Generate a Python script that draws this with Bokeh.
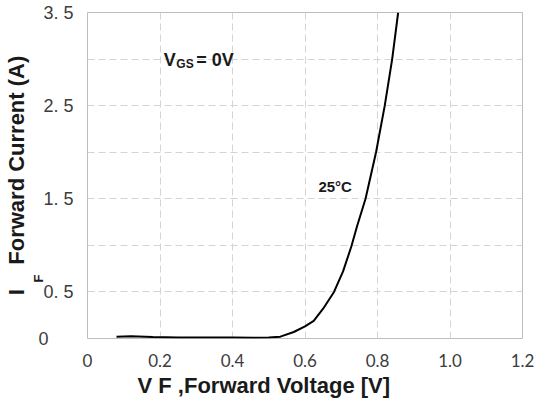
from bokeh.plotting import figure
from bokeh.models import Range1d, FixedTicker, Label, Title
from bokeh.embed import file_html
from bokeh.resources import INLINE

# ---- data ----
vf = [0.08, 0.12, 0.18, 0.25, 0.32, 0.40, 0.46, 0.50, 0.532, 0.569, 0.60, 0.624, 0.65,
      0.68, 0.705, 0.728, 0.744, 0.767, 0.796, 0.82, 0.8405, 0.857]
i_f = [0.02, 0.025, 0.015, 0.012, 0.012, 0.01, 0.008, 0.01, 0.02, 0.07, 0.13, 0.19, 0.32,
       0.50, 0.72, 0.99, 1.21, 1.5, 2.0, 2.5, 3.0, 3.5]

x_ticks = [0, 0.2, 0.4, 0.6, 0.8, 1.0, 1.2]
x_labels = ["0", "0.2", "0.4", "0.6", "0.8", "1.0", "1.2"]
y_ticks = [0, 0.5, 1.5, 2.5, 3.5]
y_labels = ["0\u00a0\u00a0\u00a0\u00a0\u00a0", "0. 5", "1. 5", "2. 5", "3. 5"]
y_grid = [0, 0.5, 1.0, 1.5, 2.0, 2.5, 3.0, 3.5]

x_title = "V F ,Forward Voltage [V]"
y_title = "I\u00a0\u00a0\u00a0 Forward Current (A)"
y_title_sub = "F"
cond_main, cond_sub, cond_rest = "V", "GS", "= 0V"
curve_label = "25\u00b0C"

p = figure(width=544, height=405, output_backend="svg", toolbar_location=None,
           x_range=Range1d(0, 1.2), y_range=Range1d(0, 3.5),
           min_border_left=87, min_border_right=22, min_border_top=12, min_border_bottom=67)

p.outline_line_color = "#bdbdbd"
p.outline_line_width = 1
p.background_fill_color = "white"
p.border_fill_color = "white"

for ax in (p.xaxis[0], p.yaxis[0]):
    ax.axis_line_color = None
    ax.major_tick_line_color = None
    ax.minor_tick_line_color = None
    ax.major_tick_out = 0
    ax.major_tick_in = 0
    ax.minor_tick_out = 0
    ax.minor_tick_in = 0
    ax.major_label_text_color = "#3c3c3c"

p.xaxis.ticker = FixedTicker(ticks=x_ticks)
p.xaxis.major_label_overrides = {t: l for t, l in zip(x_ticks, x_labels)}
p.xaxis.major_label_text_font = "Lato"
p.xaxis.major_label_text_font_size = "17px"
p.xaxis.major_label_standoff = 15

p.yaxis.ticker = FixedTicker(ticks=y_ticks)
p.yaxis.major_label_overrides = {t: l for t, l in zip(y_ticks, y_labels)}
p.yaxis.major_label_text_font = "Liberation Sans"
p.yaxis.major_label_text_font_size = "18px"
p.yaxis.major_label_standoff = 14
# subscript "F" of the y title, shifted down beside the "I" with trailing no-break spaces
p.yaxis.axis_label = y_title_sub + "\u00a0" * 57
p.yaxis.axis_label_standoff = -11
p.yaxis.axis_label_text_font = "Liberation Sans"
p.yaxis.axis_label_text_font_style = "bold"
p.yaxis.axis_label_text_font_size = "13px"
p.yaxis.axis_label_text_color = "#1a1a1a"

p.xgrid.ticker = FixedTicker(ticks=x_ticks)
p.ygrid.ticker = FixedTicker(ticks=y_grid)
for g in (p.xgrid[0], p.ygrid[0]):
    g.grid_line_color = "#d4d4d4"
    g.grid_line_dash = "7 4"
    g.grid_line_width = 1

p.line(vf, i_f, line_color="black", line_width=2)

bold = "bold"
txt_col = "#1a1a1a"

# axis titles as side-panel titles
p.add_layout(Title(text=x_title, align="left", offset=50, standoff=2,
                   text_font="Liberation Sans", text_font_style=bold, text_font_size="22px",
                   text_color=txt_col), "below")
p.add_layout(Title(text=y_title, align="center", standoff=0,
                   text_font="Liberation Sans", text_font_style=bold, text_font_size="22px",
                   text_color=txt_col), "left")

# condition label
p.add_layout(Label(x=0.21, y=2.985, text=cond_main, text_font="Liberation Sans",
                   text_font_style=bold, text_font_size="18px", text_color=txt_col,
                   text_align="left", text_baseline="alphabetic"))
p.add_layout(Label(x=0.245, y=2.95, text=cond_sub, text_font="Liberation Sans",
                   text_font_style=bold, text_font_size="12px", text_color=txt_col,
                   text_align="left", text_baseline="alphabetic"))
p.add_layout(Label(x=0.3, y=2.985, text=cond_rest, text_font="Liberation Sans",
                   text_font_style=bold, text_font_size="18px", text_color=txt_col,
                   text_align="left", text_baseline="alphabetic"))

# curve label
p.add_layout(Label(x=0.637, y=1.63, text=curve_label, text_font="Liberation Sans",
                   text_font_style=bold, text_font_size="15px", text_color=txt_col,
                   text_align="left", text_baseline="alphabetic"))

open("out.html", "w").write(file_html(p, INLINE))
